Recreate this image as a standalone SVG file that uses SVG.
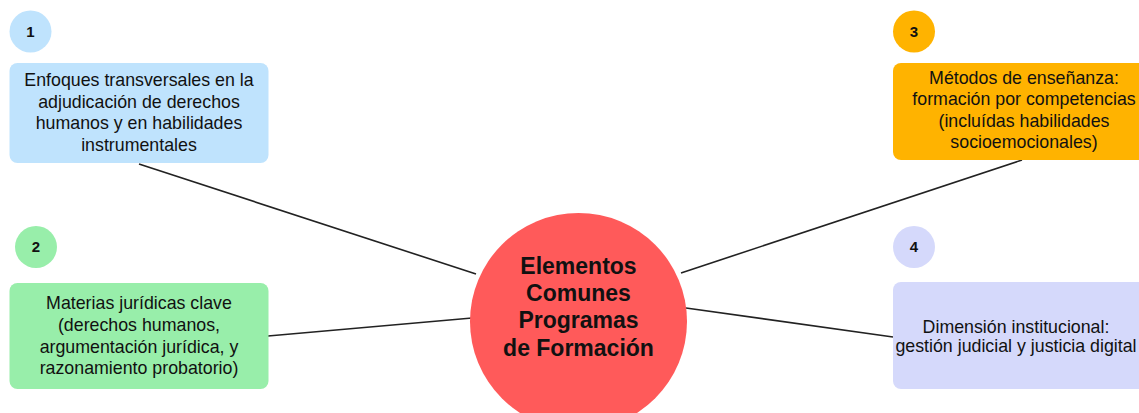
<svg xmlns="http://www.w3.org/2000/svg" width="1139" height="413" viewBox="0 0 1139 413">
<style>
.t{font-family:"Liberation Sans",Arial,sans-serif;font-size:17.8px;fill:#111;text-anchor:middle}
.n{font-family:"Liberation Sans",Arial,sans-serif;font-size:15px;font-weight:bold;fill:#111;text-anchor:middle}
.c{font-family:"Liberation Sans",Arial,sans-serif;font-size:23px;font-weight:bold;fill:#111;text-anchor:middle}
.l{stroke:#222;stroke-width:1.6;fill:none}
</style>
<rect width="1139" height="413" fill="#fff"/>
<g id="connectors">
<line class="l" x1="139" y1="164" x2="476" y2="274"/>
<line class="l" x1="268" y1="336" x2="472" y2="318"/>
<line class="l" x1="1022" y1="160" x2="681" y2="273"/>
<line class="l" x1="686" y1="308" x2="893" y2="337"/>
</g>
<g id="n1">
<circle cx="30.5" cy="31.5" r="21" fill="#bfe3fd"/>
<text class="n" x="30.5" y="36.5">1</text>
<rect x="9.5" y="63" width="259" height="100" rx="8" fill="#bfe3fd"/>
<text class="t" x="139" y="86">Enfoques transversales en la</text>
<text class="t" x="139" y="107.5">adjudicación de derechos</text>
<text class="t" x="139" y="129">humanos y en habilidades</text>
<text class="t" x="139" y="150.5">instrumentales</text>
</g>
<g id="n2">
<circle cx="36" cy="247" r="21" fill="#98eeaa"/>
<text class="n" x="36" y="252">2</text>
<rect x="9.5" y="283" width="259" height="106" rx="8" fill="#98eeaa"/>
<text class="t" x="139" y="309">Materias jurídicas clave</text>
<text class="t" x="139" y="331">(derechos humanos,</text>
<text class="t" x="139" y="352.5">argumentación jurídica, y</text>
<text class="t" x="139" y="374">razonamiento probatorio)</text>
</g>
<g id="n3">
<circle cx="914" cy="31.5" r="21" fill="#ffb300"/>
<text class="n" x="914" y="36.5">3</text>
<rect x="893" y="63" width="256" height="97" rx="8" fill="#ffb300"/>
<text class="t" x="1024" y="84">Métodos de enseñanza:</text>
<text class="t" x="1024" y="105">formación por competencias</text>
<text class="t" x="1024" y="126.5">(incluídas habilidades</text>
<text class="t" x="1024" y="148">socioemocionales)</text>
</g>
<g id="n4">
<circle cx="914" cy="247" r="21" fill="#d5d9fb"/>
<text class="n" x="914" y="252">4</text>
<rect x="893" y="282" width="256" height="107" rx="8" fill="#d5d9fb"/>
<text class="t" x="1016" y="333">Dimensión institucional:</text>
<text class="t" x="1016" y="352">gestión judicial y justicia digital</text>
</g>
<g id="center">
<circle cx="578.5" cy="321.5" r="108.5" fill="#ff5a5a"/>
<text class="c" x="578.5" y="273.5">Elementos</text>
<text class="c" x="578.5" y="300.5">Comunes</text>
<text class="c" x="578.5" y="328">Programas</text>
<text class="c" x="578.5" y="355.5">de Formación</text>
</g>
</svg>
